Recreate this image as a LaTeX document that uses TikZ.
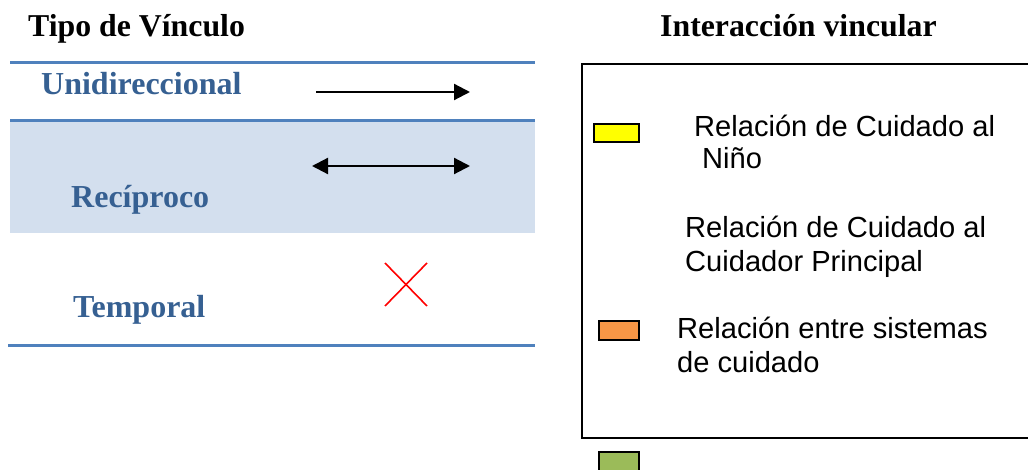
\documentclass[tikz,border=0pt]{standalone}
\usepackage{fontspec}
\setmainfont{Liberation Serif}
\newfontfamily\arialfont{Liberation Sans}
\usetikzlibrary{arrows.meta}
\definecolor{rulecol}{RGB}{79,129,189}
\definecolor{shadecol}{RGB}{211,223,238}
\definecolor{headblue}{RGB}{54,96,146}
\definecolor{yel}{RGB}{255,255,0}
\definecolor{ora}{RGB}{247,150,70}
\definecolor{gre}{RGB}{155,187,89}
\tikzset{
  head/.style={anchor=base west, inner sep=0pt, font=\fontsize{31.8}{38}\selectfont\bfseries},
  kind/.style={anchor=base west, inner sep=0pt, text=headblue, font=\fontsize{32}{38}\selectfont\bfseries},
  legtext/.style={anchor=base west, inner sep=0pt, font=\arialfont\fontsize{29.1}{33}\selectfont},
  rulel/.style={draw=rulecol, line width=3pt},
  swatch/.style={draw=black, line width=1.5pt},
  arr/.style={line width=2.2pt, -{Triangle[length=16pt,width=16pt]}},
  darr/.style={line width=2.2pt, {Triangle[length=16pt,width=16pt]}-{Triangle[length=16pt,width=16pt]}},
  cross/.style={draw=red, line width=1.6pt}
}
\begin{document}
\begin{tikzpicture}[x=1pt,y=-1pt]
\useasboundingbox (0,0) rectangle (1028,470);
\clip (0,0) rectangle (1028,470);
% left table
\fill[shadecol] (10,121) rectangle (535,233);
\draw[rulel] (10,63) -- (535,63);
\draw[rulel] (10,121) -- (535,121);
\draw[rulel] (8,345) -- (535,345);
\node[head] (t1) at (28,37) {Tipo de Vínculo};
\node[kind] (k1) at (41,95) {Unidireccional};
\node[kind] (k2) at (71,208) {Recíproco};
\node[kind] (k3) at (73,318) {Temporal};
% arrows
\coordinate (a1s) at (316,92);
\coordinate (a1e) at (470,92);
\draw[arr] (a1s) -- (a1e);
\coordinate (a2s) at (312,166);
\coordinate (a2e) at (470,166);
\draw[darr] (a2s) -- (a2e);
% red cross
\coordinate (x1) at (385,263);
\coordinate (x2) at (427,306);
\coordinate (x3) at (385,306);
\coordinate (x4) at (427,263);
\draw[cross] (x1) -- (x2);
\draw[cross] (x3) -- (x4);
% right legend
\node[head] (t2) at (660,37) {Interacción vincular};
\draw[line width=2pt] (1040,64) -- (582,64) -- (582,438) -- (1040,438);
\draw[swatch, fill=yel] (594,124) rectangle (639,142);
\draw[swatch, fill=ora] (599,321) rectangle (639,340);
\draw[swatch, fill=gre] (599,452) rectangle (639,480);
\node[legtext] (l1a) at (694,137) {Relación de Cuidado al};
\node[legtext] (l1b) at (702,169) {Niño};
\node[legtext] (l2a) at (685,238) {Relación de Cuidado al};
\node[legtext] (l2b) at (685,272) {Cuidador Principal};
\node[legtext] (l3a) at (677,338) {Relación entre sistemas};
\node[legtext] (l3b) at (677,372) {de cuidado};
\end{tikzpicture}
\end{document}
